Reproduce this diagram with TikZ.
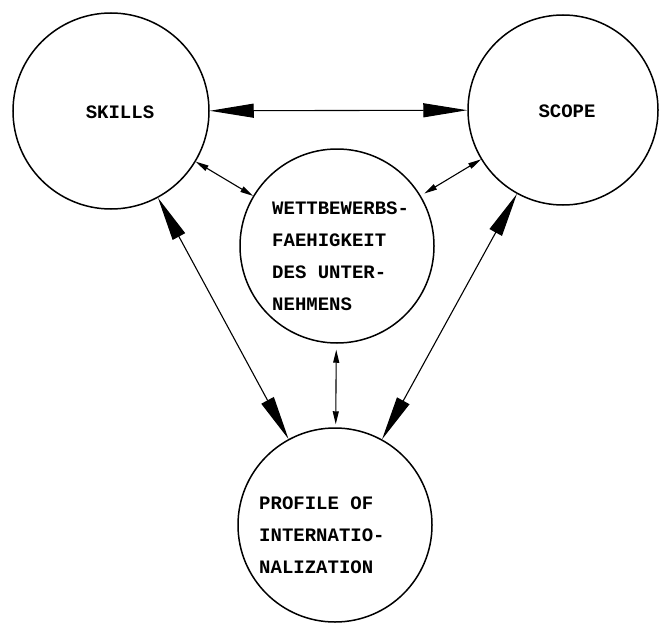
\documentclass[tikz,border=0pt]{standalone}
\usepackage{fontspec}
\setmonofont{Liberation Mono}
\usepackage{tikz}
\usetikzlibrary{arrows.meta,calc}
\tikzset{
	ring/.style={draw, circle, line width=1.5pt, inner sep=0pt},
	lbl/.style={font=\ttfamily\bfseries\fontsize{19}{32}\selectfont, align=left, inner sep=0pt},
	bigarrow/.style={line width=1.1pt, {Triangle[length=44pt,width=14pt]}-{Triangle[length=44pt,width=14pt]}},
	smallarrow/.style={line width=1.1pt, {Triangle[length=13pt,width=6pt]}-{Triangle[length=13pt,width=6pt]}}
}

\begin{document}
\begin{tikzpicture}[x=1pt, y=-1pt]
			%%%%% START %%%%%
			
			\useasboundingbox (0, 0) rectangle (660, 623);
			
			\node[ring, minimum size=196pt] (skills) at (111, 111) {};
			\node[ring, minimum size=190pt] (scope) at (563, 110) {};
			\node[ring, minimum size=194pt] (wettb) at (337, 246) {};
			\node[ring, minimum size=194pt] (profile) at (335, 525) {};
			
			\node[lbl] (skillsT) at (120, 112) {SKILLS};
			\node[lbl] (scopeT) at (567, 111) {SCOPE};
			\node[lbl, anchor=west] (wettbT) at (272, 256) {WETTBEWERBS-\\FAEHIGKEIT\\DES UNTER-\\NEHMENS};
			\node[lbl, anchor=west] (profileT) at (259, 535) {PROFILE OF\\INTERNATIO-\\NALIZATION};
			
			\draw[bigarrow] (skills) -- (scope);
			\draw[bigarrow] (skills) -- (profile);
			\draw[bigarrow] (scope) -- (profile);
			
			\draw[smallarrow] (skills) -- (wettb);
			\draw[smallarrow, shorten <=4pt] (wettb) -- (scope);
			\draw[smallarrow, shorten <=6pt, shorten >=3pt] (wettb) -- (profile);
			
			%%%%% END %%%%%
		\end{tikzpicture}
\end{document}
